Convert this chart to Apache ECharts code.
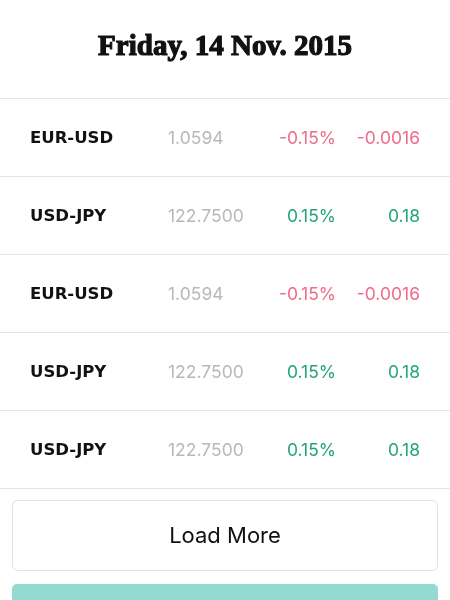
<!DOCTYPE html>
<html>
<head>
<meta charset="utf-8">
<script src="https://cdn.jsdelivr.net/npm/echarts@6/dist/echarts.min.js"></script>
<style>
html,body{margin:0;padding:0;background:#fff;}
#chart{width:450px;height:600px;}
</style>
</head>
<body>
<div id="chart"></div>
<script>
const titleText = 'Friday, 14 Nov. 2015';
const pairs = ['EUR-USD', 'USD-JPY', 'EUR-USD', 'USD-JPY', 'USD-JPY'];
const prices = ['1.0594', '122.7500', '1.0594', '122.7500', '122.7500'];
const pctChanges = ['-0.15%', '0.15%', '-0.15%', '0.15%', '0.15%'];
const absChanges = ['-0.0016', '0.18', '-0.0016', '0.18', '0.18'];
const buttonText = 'Load More';

const BODY_FONT = 'Inter, "Noto Sans", sans-serif';
const LABEL_FONT = '"DejaVu Sans", Inter, sans-serif';
const UP = '#22a57c', DOWN = '#ef6b8b';

const chart = echarts.init(document.getElementById('chart'), null, {renderer: 'canvas'});
chart.setOption({
  backgroundColor: '#ffffff',
  animation: false,
  title: {
    text: titleText,
    left: 'center',
    top: 28,
    textStyle: {
      fontFamily: '"Liberation Serif", "DejaVu Serif", serif',
      fontWeight: 'bold',
      fontSize: 29,
      color: '#111111',
      textBorderColor: '#111111',
      textBorderWidth: 1.2
    }
  },
  grid: {left: 0, right: 0, top: 98, height: 390, containLabel: false},
  xAxis: {type: 'value', min: 0, max: 1, show: false},
  yAxis: {
    type: 'category',
    inverse: true,
    data: pairs,
    axisLine: {show: false},
    axisTick: {show: false},
    axisLabel: {show: false},
    splitLine: {show: true, lineStyle: {color: '#e5e5e5', width: 1}}
  },
  series: [{
    type: 'custom',
    data: pairs.map((p, i) => [0.5, i]),
    encode: {x: 0, y: 1},
    renderItem: function (params, api) {
      const i = params.dataIndex;
      const y = api.coord([0, api.value(1)])[1] + 1.5;
      const col = pctChanges[i].trim().startsWith('-') ? DOWN : UP;
      const base = {fontFamily: BODY_FONT, fontSize: 17.5, verticalAlign: 'middle'};
      return {
        type: 'group',
        children: [
          {type: 'text', style: {x: 30, y: y, text: pairs[i], fill: '#111111', align: 'left', verticalAlign: 'middle',
            fontFamily: LABEL_FONT, fontWeight: 'bold', fontSize: 16.5}},
          {type: 'text', style: Object.assign({}, base, {x: 168, y: y, text: prices[i], fill: '#b8b8b8', align: 'left'})},
          {type: 'text', style: Object.assign({}, base, {x: 336, y: y, text: pctChanges[i], fill: col, align: 'right'})},
          {type: 'text', style: Object.assign({}, base, {x: 420, y: y, text: absChanges[i], fill: col, align: 'right'})}
        ]
      };
    }
  }],
  graphic: [
    {type: 'line', shape: {x1: 0, y1: 98.5, x2: 450, y2: 98.5}, style: {stroke: '#e5e5e5', lineWidth: 1}},
    {type: 'line', shape: {x1: 0, y1: 488.5, x2: 450, y2: 488.5}, style: {stroke: '#e5e5e5', lineWidth: 1}},
    {type: 'rect', shape: {x: 12.5, y: 500.5, width: 425, height: 70, r: 5},
     style: {fill: '#ffffff', stroke: '#e2e2e2', lineWidth: 1}},
    {type: 'text', style: {x: 225, y: 536, text: buttonText, align: 'center', verticalAlign: 'middle',
      fontFamily: BODY_FONT, fontSize: 22, fill: '#111111'}},
    {type: 'rect', shape: {x: 12, y: 584, width: 426, height: 30, r: 5},
     style: {fill: '#93dbd0'}}
  ]
});
</script>
</body>
</html>
